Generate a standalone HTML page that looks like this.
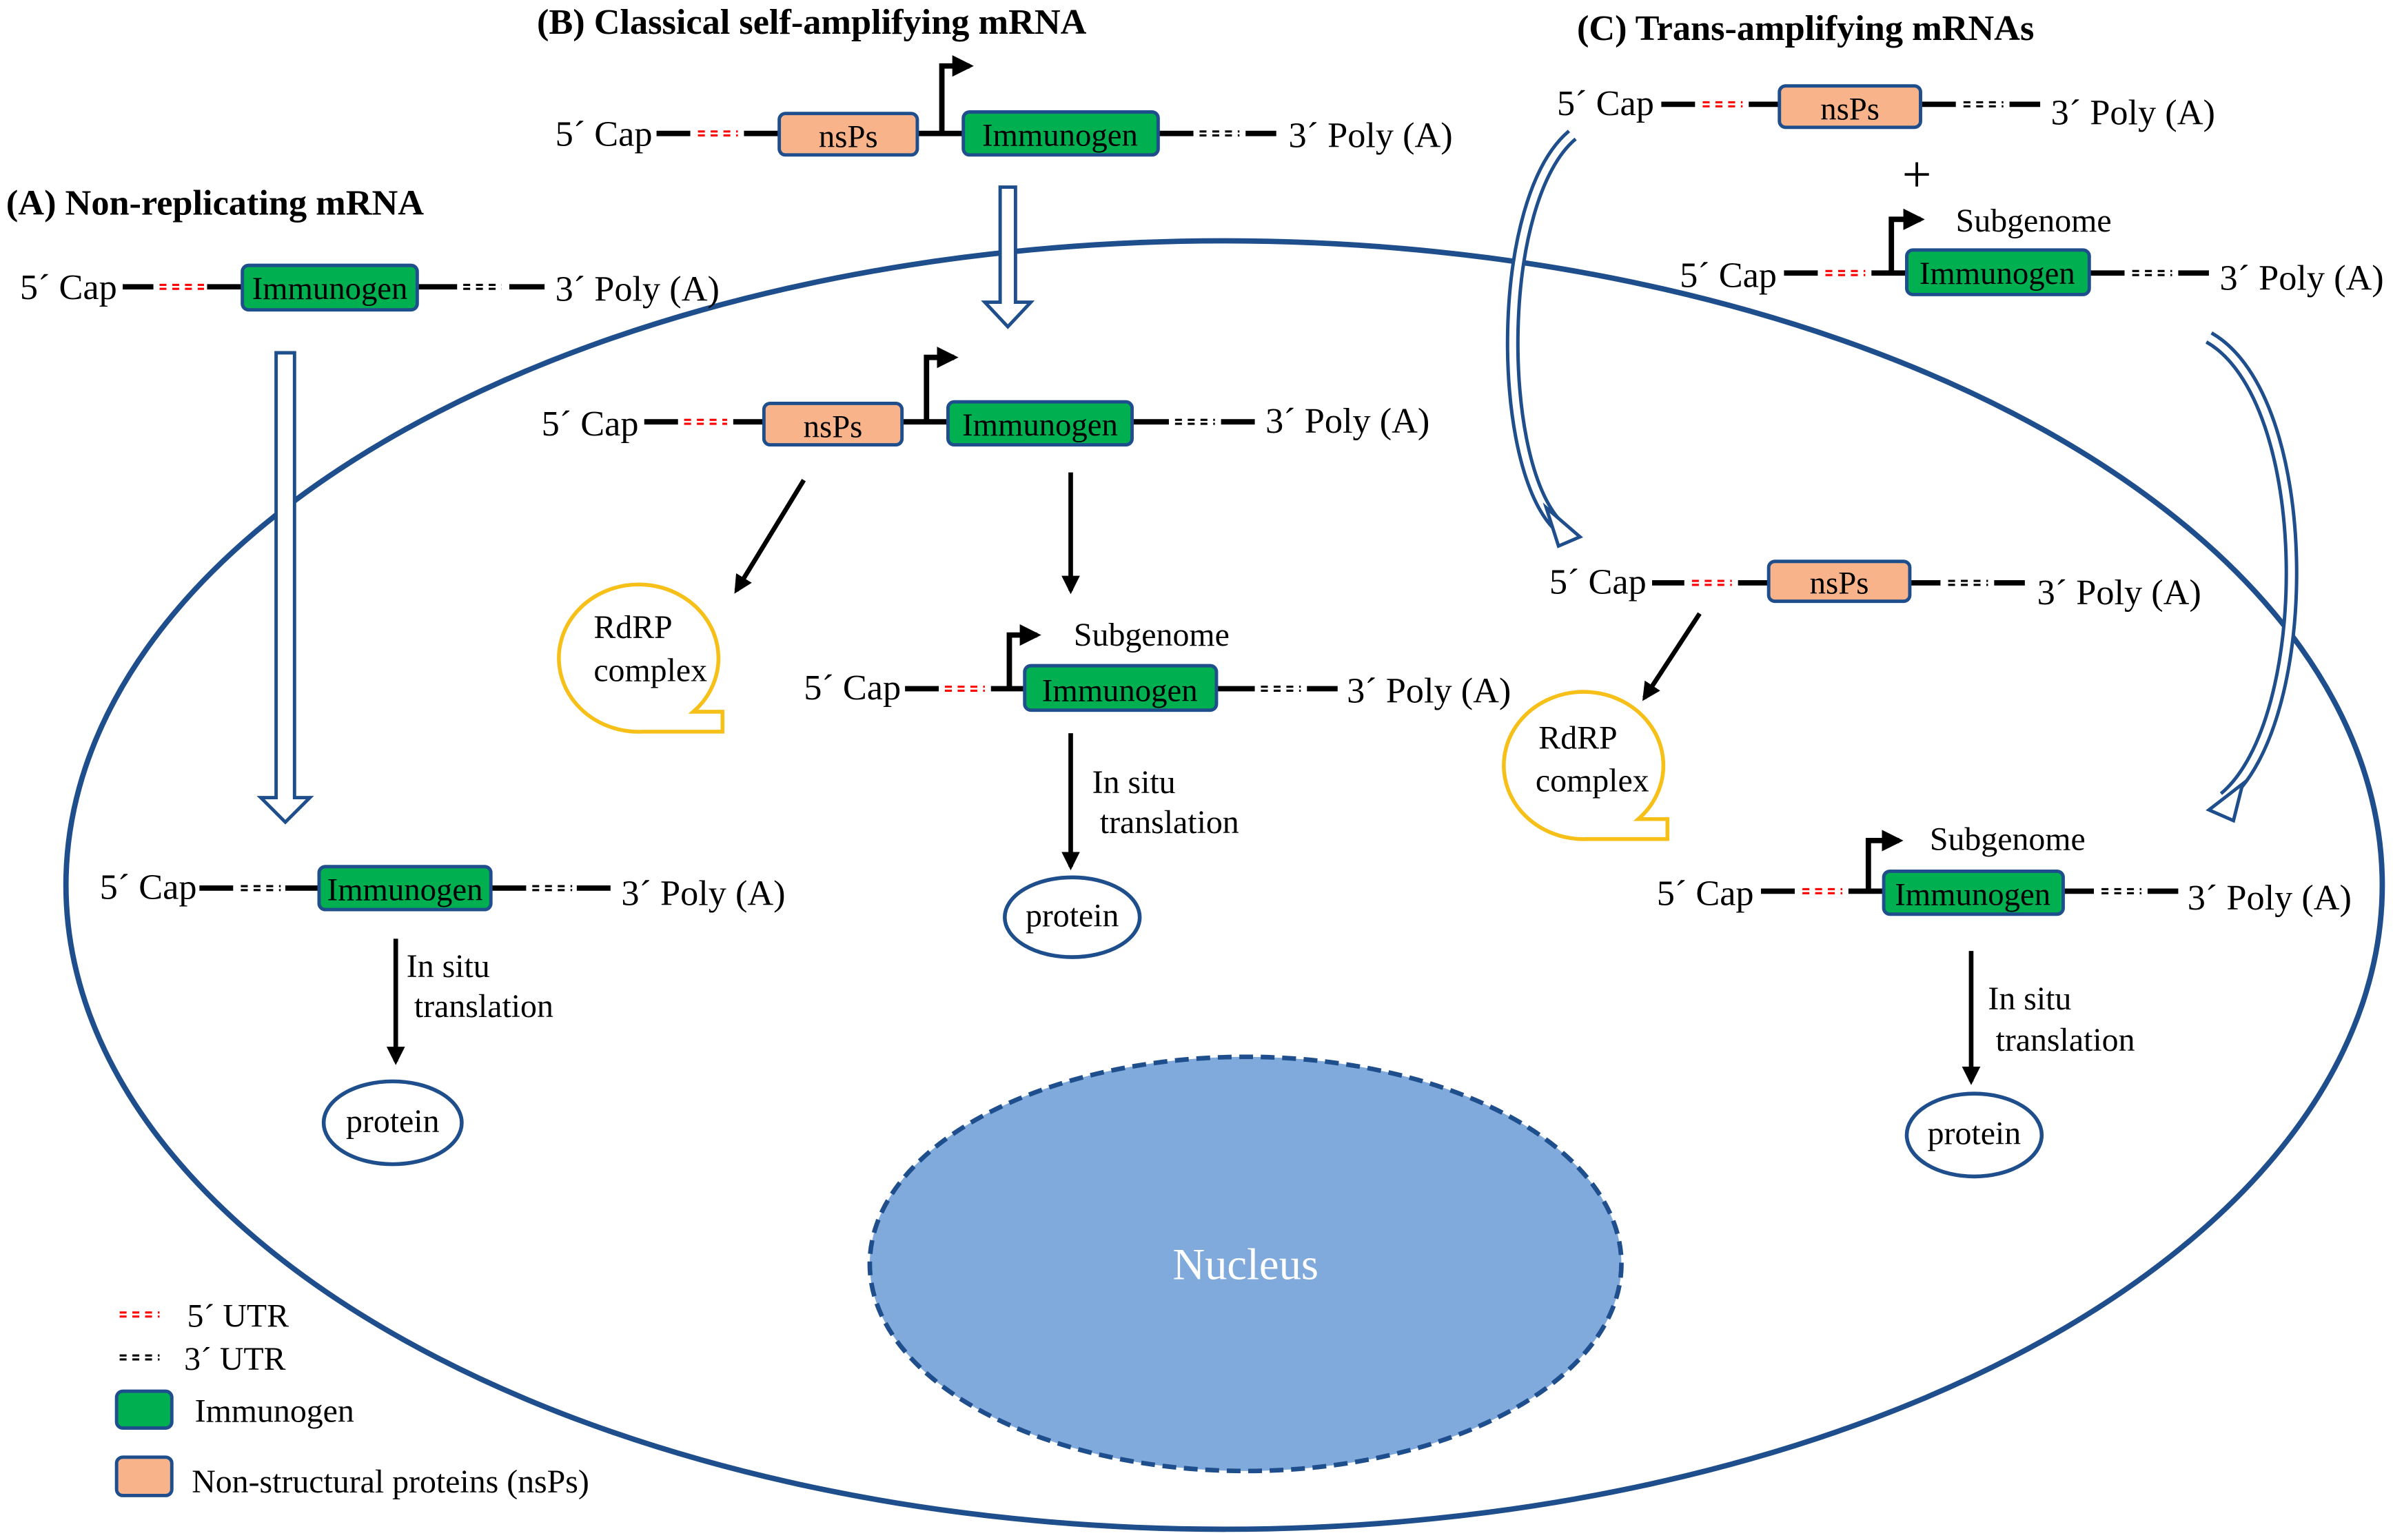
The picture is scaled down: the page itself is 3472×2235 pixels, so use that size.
<!DOCTYPE html>
<html><head><meta charset="utf-8"><style>html,body{margin:0;padding:0;background:#fff}svg{display:block}</style></head><body>
<svg xmlns="http://www.w3.org/2000/svg" width="3472" height="2235" viewBox="0 0 1560 1004" preserveAspectRatio="none" font-family="'Liberation Serif', serif">
<defs>
<marker id="ah" viewBox="0 0 10 10" refX="8" refY="5" markerWidth="4" markerHeight="4" orient="auto"><path d="M0,0L10,5L0,10z" fill="#000"/></marker>
</defs>
<ellipse cx="798" cy="577" rx="755" ry="420" fill="none" stroke="#1f4e8c" stroke-width="3.5"/>
<ellipse cx="812" cy="824" rx="245" ry="135" fill="#80a9dc" stroke="#1f4e8c" stroke-width="3" stroke-dasharray="9 5"/>
<text x="812" y="834" fill="#fff" font-size="29" text-anchor="middle">Nucleus</text>

<g font-weight="bold" font-size="23.5">
<text x="350" y="22">(B) Classical self-amplifying mRNA</text>
<text x="1028" y="26">(C) Trans-amplifying mRNAs</text>
<text x="4" y="140">(A) Non-replicating mRNA</text>
</g>

<g stroke="#000" stroke-width="3.5" fill="none">
<path d="M80 187H100M135 187H158M272 187H298M332 187H355"/>
<path d="M428 87H450M485 87H508M598 87H628M755 87H778M812 87H832"/>
<path d="M614 87V43H632" marker-end="url(#ah)"/>
<path d="M420 275H442M478 275H498M588 275H618M738 275H762M796 275H818"/>
<path d="M604 275V233H622" marker-end="url(#ah)"/>
<path d="M590 449H612M646 449H668M793 449H818M852 449H872"/>
<path d="M658 449V414H676" marker-end="url(#ah)"/>
<path d="M130 579H152M186 579H208M320 579H343M376 579H398"/>
<path d="M1083 68H1105M1140 68H1160M1252 68H1275M1310 68H1330"/>
<path d="M1163 178H1185M1220 178H1243M1362 178H1385M1420 178H1440"/>
<path d="M1233 178V143H1252" marker-end="url(#ah)"/>
<path d="M1077 380H1098M1133 380H1153M1245 380H1265M1300 380H1320"/>
<path d="M1148 581H1170M1205 581H1228M1345 581H1365M1400 581H1420"/>
<path d="M1218 581V548H1238" marker-end="url(#ah)"/>
</g>
<g stroke="#000" stroke-width="3" fill="none" marker-end="url(#ah)">
<path d="M524 313L480 385"/>
<path d="M698 308V385"/>
<path d="M698 478V565"/>
<path d="M258 612V692"/>
<path d="M1108 400L1072 455"/>
<path d="M1285 620V705"/>
</g>
<g stroke="#ff0000" stroke-width="1.4" stroke-dasharray="4.5 3.8">
<path d="M104 185.7H133M104 188.3H133"/>
<path d="M455 85.7H481M455 88.3H481"/>
<path d="M446 273.7H474M446 276.3H474"/>
<path d="M616 447.7H642M616 450.3H642"/>
<path d="M1110 66.7H1136M1110 69.3H1136"/>
<path d="M1190 176.7H1216M1190 179.3H1216"/>
<path d="M1103 378.7H1129M1103 381.3H1129"/>
<path d="M1175 579.7H1201M1175 582.3H1201"/>
<path d="M78 855.7H104M78 858.3H104"/>
</g>
<g stroke="#000" stroke-width="1.4" stroke-dasharray="4.5 3.8">
<path d="M302 185.7H327M302 188.3H327"/>
<path d="M782 85.7H808M782 88.3H808"/>
<path d="M766 273.7H792M766 276.3H792"/>
<path d="M822 447.7H848M822 450.3H848"/>
<path d="M157 577.7H183M157 580.3H183"/>
<path d="M347 577.7H373M347 580.3H373"/>
<path d="M1280 66.7H1306M1280 69.3H1306"/>
<path d="M1390 176.7H1416M1390 179.3H1416"/>
<path d="M1270 378.7H1296M1270 381.3H1296"/>
<path d="M1370 579.7H1396M1370 582.3H1396"/>
<path d="M78 883.7H104M78 886.3H104"/>
</g>
<g stroke="#1f4e8c" stroke-width="2.2">
<rect x="158" y="173" width="114" height="29" rx="4" fill="#00b050"/>
<rect x="508" y="74" width="90" height="27" rx="4" fill="#f8b38a"/>
<rect x="628" y="73" width="127" height="28" rx="4" fill="#00b050"/>
<rect x="498" y="263" width="90" height="27" rx="4" fill="#f8b38a"/>
<rect x="618" y="262" width="120" height="28" rx="4" fill="#00b050"/>
<rect x="668" y="434" width="125" height="29" rx="4" fill="#00b050"/>
<rect x="208" y="565" width="112" height="28" rx="4" fill="#00b050"/>
<rect x="1160" y="56" width="92" height="27" rx="4" fill="#f8b38a"/>
<rect x="1243" y="163" width="119" height="29" rx="4" fill="#00b050"/>
<rect x="1153" y="366" width="92" height="26" rx="4" fill="#f8b38a"/>
<rect x="1228" y="568" width="117" height="28" rx="4" fill="#00b050"/>
<rect x="76" y="907" width="36" height="24" rx="4" fill="#00b050"/>
<rect x="76" y="950" width="36" height="25" rx="4" fill="#f8b38a"/>
</g>
<g font-size="21" text-anchor="middle" fill="#000">
<text x="215" y="195">Immunogen</text>
<text x="553" y="96">nsPs</text>
<text x="691" y="95">Immunogen</text>
<text x="543" y="285">nsPs</text>
<text x="678" y="284">Immunogen</text>
<text x="730" y="457">Immunogen</text>
<text x="264" y="587">Immunogen</text>
<text x="1206" y="78">nsPs</text>
<text x="1302" y="185">Immunogen</text>
<text x="1199" y="387">nsPs</text>
<text x="1286" y="590">Immunogen</text>
</g>
<g font-size="23.5" fill="#000">
<text x="13" y="195">5´ Cap</text><text x="362" y="196">3´ Poly (A)</text>
<text x="362" y="95">5´ Cap</text><text x="840" y="96">3´ Poly (A)</text>
<text x="353" y="284">5´ Cap</text><text x="825" y="282">3´ Poly (A)</text>
<text x="524" y="456">5´ Cap</text><text x="878" y="458">3´ Poly (A)</text>
<text x="65" y="586">5´ Cap</text><text x="405" y="590">3´ Poly (A)</text>
<text x="1015" y="75">5´ Cap</text><text x="1337" y="81">3´ Poly (A)</text>
<text x="1095" y="187">5´ Cap</text><text x="1447" y="189">3´ Poly (A)</text>
<text x="1010" y="387">5´ Cap</text><text x="1328" y="394">3´ Poly (A)</text>
<text x="1080" y="590">5´ Cap</text><text x="1426" y="593">3´ Poly (A)</text>
<text x="1240" y="125" font-size="34">+</text>
</g>
<g font-size="21.5" fill="#000">
<text x="700" y="421">Subgenome</text>
<text x="1275" y="151">Subgenome</text>
<text x="1258" y="554">Subgenome</text>
<text x="712" y="517">In situ</text><text x="717" y="543">translation</text>
<text x="265" y="637">In situ</text><text x="270" y="663">translation</text>
<text x="1296" y="658">In situ</text><text x="1301" y="685">translation</text>
<text x="387" y="416">RdRP</text><text x="387" y="444">complex</text>
<text x="1003" y="488">RdRP</text><text x="1001" y="516">complex</text>
<text x="122" y="865">5´ UTR</text>
<text x="120" y="893">3´ UTR</text>
<text x="127" y="927">Immunogen</text>
<text x="125" y="973">Non-structural proteins (nsPs)</text>
<text x="699" y="604" text-anchor="middle">protein</text>
<text x="256" y="738" text-anchor="middle">protein</text>
<text x="1287" y="746" text-anchor="middle">protein</text>
</g>
<g fill="none" stroke="#1f4e8c" stroke-width="2.5">
<ellipse cx="699" cy="598" rx="44" ry="26"/>
<ellipse cx="256" cy="732" rx="45" ry="27"/>
<ellipse cx="1287" cy="740" rx="44" ry="27"/>
</g>
<g fill="none" stroke="#f6c019" stroke-width="2.5">
<path d="M419 477 A52 48 0 1 1 452 464 L471 464 L471 477 Z"/>
<path d="M1035 547 A52 48 0 1 1 1068 534 L1087 534 L1087 547 Z"/>
</g>
<g fill="#fff" stroke="#1f4e8c" stroke-width="2.2">
<path d="M652 122H662V197H672L657 213L642 197H652Z"/>
<path d="M180 230H192V520H202L186 536L170 520H180Z"/>
</g>
<g fill="none">
<path d="M1025 88 C 975 130, 975 300, 1015 342" stroke="#1f4e8c" stroke-width="9"/>
<path d="M1025 88 C 975 130, 975 300, 1015 342" stroke="#fff" stroke-width="4.5"/>
<path d="M1440 220 C 1510 260, 1510 470, 1450 520" stroke="#1f4e8c" stroke-width="9"/>
<path d="M1440 220 C 1510 260, 1510 470, 1450 520" stroke="#fff" stroke-width="4.5"/>
</g>
<g fill="#fff" stroke="#1f4e8c" stroke-width="2.2">
<path d="M1008 331L1030 350L1016 356Z"/>
<path d="M1462 511L1440 528L1456 535Z"/>
</g>
</svg>
</body></html>
